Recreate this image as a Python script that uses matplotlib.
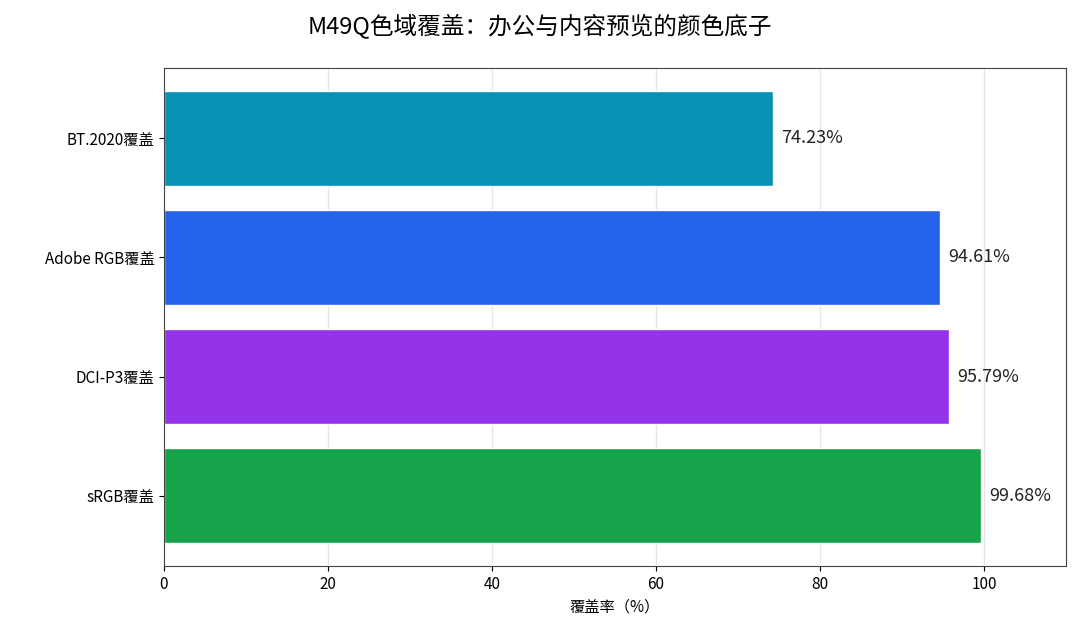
import matplotlib
matplotlib.use("Agg")
import matplotlib.pyplot as plt

plt.rcParams['font.family'] = ['Noto Sans CJK SC', 'DejaVu Sans']

categories = ["sRGB覆盖", "DCI-P3覆盖", "Adobe RGB覆盖", "BT.2020覆盖"]
values = [99.68, 95.79, 94.61, 74.23]
colors = ["#16a34a", "#9333ea", "#2563eb", "#0891b2"]

fig = plt.figure(figsize=(10.8, 6.41), dpi=100)
ax = fig.add_axes([164/1080, 1-566/641, (1066-164)/1080, (566-68)/641])
bars = ax.barh(categories, values, height=0.8, color=colors, edgecolor="white", linewidth=1, zorder=2)
for b, v in zip(bars, values):
    ax.text(v + 1, b.get_y() + b.get_height()/2, f"{v:.2f}%", va="center", ha="left", fontsize=13, color="#222222")
ax.set_xlim(0, 110)
ax.set_xticks([0, 20, 40, 60, 80, 100])
ax.grid(axis="x", color="#e6e6e6", linewidth=1, zorder=0)
ax.set_axisbelow(True)
for s in ax.spines.values():
    s.set_color("#444444")
ax.tick_params(labelsize=11)
ax.set_xlabel("覆盖率（%）", fontsize=11)
fig.suptitle("M49Q色域覆盖：办公与内容预览的颜色底子", fontsize=17, y=0.98)
fig.savefig("out.png", dpi=100)
